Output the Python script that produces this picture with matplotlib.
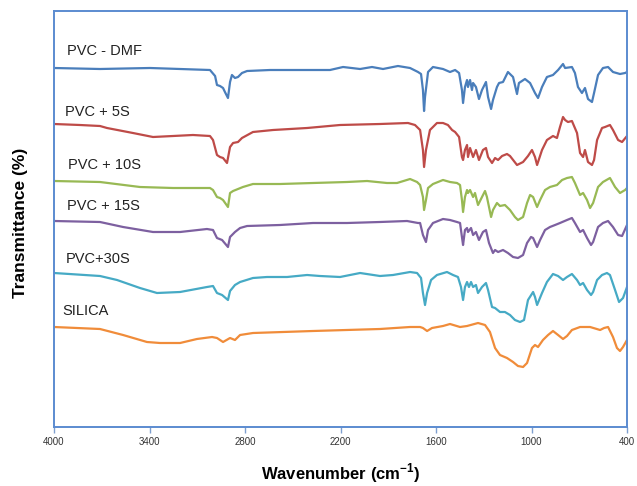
import matplotlib
matplotlib.use("Agg")
import matplotlib.pyplot as plt

# FTIR spectra, stacked with offsets (arbitrary transmittance units)
# PVC - DMF
dmf_wn = [4000, 3711, 3397, 3208, 3020, 2988, 2976, 2957, 2938, 2926, 2907, 2894, 2882,
          2863, 2844, 2819, 2787, 2643, 2454, 2266, 2184, 2077, 2002, 1933, 1839, 1763,
          1713, 1694, 1682, 1675, 1669, 1650, 1619, 1556, 1512, 1480, 1455, 1437, 1430,
          1418, 1405, 1399, 1386, 1374, 1367, 1349, 1330, 1311, 1286, 1273, 1254, 1242,
          1217, 1204, 1179, 1148, 1116, 1091, 1079, 1041, 1009, 978, 959, 934, 903, 865,
          833, 802, 789, 746, 727, 708, 683, 664, 645, 620, 607, 582, 551, 519, 488, 444,
          412, 400]
dmf_t = [359, 358, 359, 358, 357, 351, 342, 341, 339, 335, 329, 345, 352,
         349, 350, 354, 356, 357, 357, 357, 360, 358, 360, 358, 361, 359,
         355, 353, 337, 316, 330, 355, 360, 358, 355, 357, 354, 337, 324,
         340, 347, 340, 347, 337, 344, 340, 328, 337, 345, 330, 318, 327,
         340, 344, 345, 355, 350, 333, 344, 348, 344, 334, 329, 340, 350, 352,
         357, 363, 359, 360, 354, 340, 334, 339, 328, 325, 334, 352, 359, 360, 355, 353,
         354, 355]

# PVC + 5S
s5_wn = [4000, 3837, 3711, 3667, 3504, 3378, 3252, 3127, 3020, 3001, 2976, 2957, 2938,
         2913, 2894, 2875, 2844, 2819, 2750, 2624, 2410, 2203, 1952, 1776, 1732, 1700,
         1682, 1675, 1663, 1638, 1594, 1556, 1525, 1499, 1480, 1455, 1437, 1430, 1418,
         1405, 1399, 1386, 1367, 1349, 1330, 1305, 1286, 1273, 1248, 1229, 1210, 1185,
         1154, 1135, 1091, 1053, 1022, 997, 978, 965, 934, 903, 865, 840, 821, 802, 789,
         771, 746, 714, 695, 676, 664, 645, 620, 607, 588, 557, 538, 507, 488, 456, 431, 400]
s5_t = [303, 302, 301, 299, 294, 290, 291, 292, 291, 287, 272, 270, 269,
        264, 280, 284, 285, 289, 295, 297, 299, 302, 303, 304, 302, 297,
        277, 260, 277, 297, 304, 304, 302, 297, 295, 290, 270, 267, 277,
        282, 270, 279, 270, 277, 267, 277, 279, 270, 264, 269, 267, 271,
        273, 271, 262, 265, 271, 277, 270, 262, 277, 287, 291, 289, 300, 310, 307,
        305, 306, 294, 274, 270, 277, 265, 262, 267, 287, 299, 300, 302, 297, 287, 285, 291]

# PVC + 10S
s10_wn = [4000, 3711, 3460, 3252, 3020, 3001, 2976, 2957, 2938, 2907, 2894, 2875, 2844,
          2813, 2750, 2580, 2373, 2159, 2033, 1908, 1845, 1763, 1719, 1700, 1682, 1675,
          1663, 1650, 1619, 1556, 1512, 1468, 1449, 1437, 1430, 1418, 1405, 1399, 1386,
          1367, 1355, 1336, 1311, 1292, 1280, 1254, 1242, 1217, 1198, 1167, 1135, 1104,
          1085, 1053, 1028, 1009, 990, 965, 946, 915, 884, 840, 808, 777, 746, 727, 695,
          676, 651, 632, 613, 582, 551, 507, 475, 444, 412, 400]
s10_t = [246, 245, 240, 239, 239, 237, 230, 229, 227, 220, 234, 236, 238,
         240, 243, 243, 244, 245, 246, 244, 244, 248, 245, 242, 230, 217,
         227, 239, 243, 247, 245, 244, 242, 227, 215, 230, 237, 234, 237,
         230, 234, 222, 230, 236, 230, 210, 217, 224, 221, 222, 217, 210,
         207, 210, 224, 232, 230, 220, 227, 237, 240, 242, 247, 249, 250, 244, 232,
         234, 227, 219, 224, 240, 245, 249, 240, 234, 237, 239]

# PVC + 15S
s15_wn = [4000, 3711, 3566, 3378, 3208, 3039, 3001, 2976, 2944, 2907, 2894, 2863, 2831,
          2787, 2580, 2373, 2159, 1952, 1782, 1713, 1700, 1682, 1663, 1650, 1619, 1556,
          1512, 1468, 1449, 1437, 1430, 1418, 1405, 1399, 1380, 1367, 1349, 1330, 1305,
          1286, 1267, 1242, 1229, 1210, 1179, 1148, 1116, 1085, 1053, 1028, 1003, 990,
          965, 946, 915, 884, 852, 821, 777, 746, 727, 695, 676, 651, 626, 613, 582, 551,
          519, 488, 456, 431, 400]
s15_t = [206, 205, 200, 195, 195, 198, 197, 189, 187, 180, 190, 195, 199,
         201, 202, 204, 204, 205, 206, 204, 204, 192, 185, 197, 204, 208,
         207, 205, 204, 190, 182, 197, 199, 195, 199, 192, 195, 187, 195,
         197, 184, 174, 177, 175, 177, 174, 170, 169, 172, 184, 190, 189,
         180, 187, 197, 200, 202, 204, 207, 209, 204, 195, 197, 189, 182, 185, 200, 204,
         206, 200, 192, 191, 202]

# PVC+30S
s30_wn = [4000, 3711, 3604, 3460, 3353, 3208, 3039, 3001, 2976, 2944, 2907, 2894, 2863,
          2831, 2750, 2662, 2536, 2410, 2329, 2203, 2077, 1952, 1870, 1763, 1719, 1694,
          1682, 1669, 1656, 1631, 1594, 1531, 1493, 1462, 1443, 1430, 1418, 1405, 1393,
          1380, 1367, 1349, 1336, 1311, 1286, 1273, 1248, 1229, 1198, 1167, 1135, 1104,
          1072, 1047, 1022, 990, 978, 965, 934, 903, 865, 833, 802, 777, 746, 714, 695,
          676, 651, 626, 613, 588, 557, 526, 507, 475, 450, 425, 400]
s30_t = [154, 151, 147, 139, 134, 135, 140, 141, 134, 132, 127, 136, 142,
         145, 149, 150, 150, 152, 151, 150, 154, 151, 152, 155, 154, 149,
         134, 122, 134, 147, 152, 155, 152, 150, 140, 127, 140, 145, 140,
         145, 140, 142, 134, 140, 144, 137, 120, 119, 115, 115, 112, 107,
         105, 107, 127, 135, 130, 122, 134, 145, 153, 151, 147, 150, 153, 147, 142,
         144, 137, 132, 135, 147, 152, 154, 152, 137, 125, 129, 140]

# SILICA
sil_wn = [4000, 3711, 3566, 3416, 3334, 3208, 3102, 3007, 2976, 2938, 2894, 2863, 2831,
          2750, 2373, 1952, 1763, 1700, 1682, 1656, 1625, 1556, 1512, 1449, 1405, 1336,
          1292, 1261, 1229, 1198, 1154, 1116, 1085, 1053, 1028, 997, 978, 959, 928, 896,
          865, 833, 802, 777, 746, 695, 632, 569, 544, 519, 488, 463, 444, 425, 400]
sil_t = [100, 98, 92, 85, 84, 84, 88, 90, 89, 85, 89, 87, 92,
         94, 96, 98, 100, 100, 99, 96, 99, 101, 103, 100, 101, 104,
         102, 95, 79, 72, 69, 65, 61, 60, 64, 79, 82, 80, 87, 92,
         96, 92, 88, 91, 97, 100, 100, 97, 99, 100, 90, 79, 76, 80, 87]

series = [
    ("PVC - DMF", dmf_wn, dmf_t, "#4a7ebb", 3918, 369),
    ("PVC + 5S", s5_wn, s5_t, "#be4b48", 3931, 308),
    ("PVC + 10S", s10_wn, s10_t, "#98b954", 3912, 255),
    ("PVC + 15S", s15_wn, s15_t, "#7d60a0", 3918, 214),
    ("PVC+30S", s30_wn, s30_t, "#46aac5", 3925, 161),
    ("SILICA", sil_wn, sil_t, "#f08c3a", 3950, 109),
]

plt.rcParams['font.family'] = ['Liberation Sans', 'DejaVu Sans']
plt.rcParams['mathtext.fontset'] = 'custom'
plt.rcParams['mathtext.bf'] = 'Liberation Sans:bold'
plt.rcParams['mathtext.rm'] = 'Liberation Sans:bold'

fig = plt.figure(figsize=(6.37, 4.86), dpi=100)
ax = fig.add_axes([54/637, 59/486, 573/637, 416/486])

for name, wn, t, col, lx, ly in series:
    ax.plot(wn, t, color=col, lw=1.6, solid_joinstyle='round')
    ax.text(lx, ly, name, fontsize=10.5, color='#222222', ha='left', va='bottom')

ax.set_xlim(4000, 400)
ax.set_ylim(0, 416)
ax.set_xticks([4000, 3400, 2800, 2200, 1600, 1000, 400])
ax.set_yticks([])
ax.tick_params(axis='x', direction='out', length=4, width=1, color='#7f9fcf',
               labelsize=7, labelcolor='#333333', pad=3)
for sp in ax.spines.values():
    sp.set_color('#5b8bd0')
    sp.set_linewidth(1.4)

ax.set_xlabel('Wavenumber (cm$^{\\mathrm{-1}}$)', fontsize=12, fontweight='bold')
ax.xaxis.set_label_coords(0.5, -0.082)
ax.set_ylabel('Transmittance (%)', fontsize=12.5, fontweight='bold')
ax.yaxis.set_label_coords(-0.045, 0.49)

fig.savefig('out.png', dpi=100)
